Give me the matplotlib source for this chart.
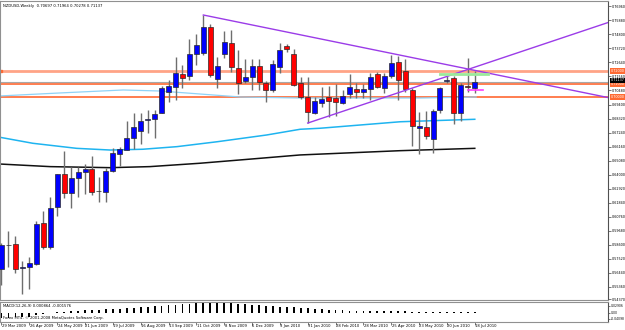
import matplotlib
matplotlib.use("Agg")
import matplotlib.pyplot as plt
import matplotlib.transforms as mtransforms

plt.rcParams['font.family'] = ['DejaVu Sans']

# weekly NZDUSD candles, 29 Mar 2009 .. 18 Jul 2010
opens = [0.5672, 0.5857, 0.5865, 0.5683, 0.5687, 0.5710, 0.6026, 0.5841, 0.6152, 0.6404,
         0.6258, 0.6373, 0.6420, 0.6443, 0.6273, 0.6265, 0.6427, 0.6558, 0.6589, 0.6682,
         0.6736, 0.6824, 0.6828, 0.6874, 0.7036, 0.7075, 0.7175, 0.7160, 0.7329, 0.7337,
         0.7538, 0.7137, 0.7329, 0.7414, 0.7221, 0.7121, 0.7152, 0.7237, 0.7106, 0.7052,
         0.7229, 0.7391, 0.7329, 0.7106, 0.6998, 0.6875, 0.6952, 0.6998, 0.6990, 0.6952,
         0.7021, 0.7060, 0.7036, 0.7060, 0.7175, 0.7067, 0.7160, 0.7268, 0.7198, 0.7052,
         0.6759, 0.6767, 0.6674, 0.6898, 0.7125, 0.7144, 0.6874, 0.7083, 0.70697]
highs = [0.5872, 0.5965, 0.5926, 0.5733, 0.5764, 0.6042, 0.6119, 0.6227, 0.6404, 0.6581,
         0.6458, 0.6458, 0.6481, 0.6543, 0.6381, 0.6450, 0.6605, 0.6612, 0.6813, 0.6874,
         0.6874, 0.6898, 0.6898, 0.7083, 0.7129, 0.7306, 0.7245, 0.7445, 0.7484, 0.7630,
         0.7561, 0.7306, 0.7507, 0.7514, 0.7360, 0.7291, 0.7291, 0.7291, 0.7121, 0.7283,
         0.7414, 0.7407, 0.7368, 0.7152, 0.7152, 0.6998, 0.7075, 0.7083, 0.7098, 0.7052,
         0.7175, 0.7106, 0.7098, 0.7183, 0.7191, 0.7183, 0.7322, 0.7314, 0.7291, 0.7067,
         0.6882, 0.6890, 0.6906, 0.7075, 0.7160, 0.7160, 0.7106, 0.7299, 0.71964]
lows = [0.5548, 0.5687, 0.5641, 0.5479, 0.5517, 0.5703, 0.5826, 0.5826, 0.6080, 0.6219,
        0.6142, 0.6227, 0.6250, 0.6242, 0.6188, 0.6188, 0.6420, 0.6466, 0.6589, 0.6597,
        0.6636, 0.6720, 0.6682, 0.6871, 0.6959, 0.6975, 0.7067, 0.7129, 0.7245, 0.7322,
        0.7152, 0.7067, 0.7299, 0.7191, 0.7021, 0.7106, 0.7052, 0.7052, 0.6959, 0.7036,
        0.7183, 0.7345, 0.7083, 0.6982, 0.6797, 0.6867, 0.6921, 0.6844, 0.6851, 0.6944,
        0.6990, 0.6990, 0.6990, 0.6975, 0.7067, 0.7029, 0.7144, 0.6975, 0.7036, 0.6617,
        0.6558, 0.6674, 0.6566, 0.6874, 0.7106, 0.6790, 0.6813, 0.7036, 0.70278]
closes = [0.5857, 0.5860, 0.5672, 0.5687, 0.5718, 0.6019, 0.5841, 0.6142, 0.6402, 0.6258,
          0.6373, 0.6420, 0.6443, 0.6265, 0.6270, 0.6427, 0.6566, 0.6597, 0.6682, 0.6767,
          0.6813, 0.6828, 0.6863, 0.7067, 0.7083, 0.7183, 0.7144, 0.7329, 0.7399, 0.7538,
          0.7167, 0.7237, 0.7422, 0.7229, 0.7106, 0.7152, 0.7237, 0.7114, 0.7052, 0.7252,
          0.7360, 0.7368, 0.7090, 0.6998, 0.6882, 0.6967, 0.6982, 0.6967, 0.6959, 0.7005,
          0.7075, 0.7036, 0.7056, 0.7152, 0.7075, 0.7160, 0.7260, 0.7129, 0.7060, 0.6774,
          0.6774, 0.6697, 0.6890, 0.7067, 0.7129, 0.6874, 0.7090, 0.7075, 0.71137]

# MACD(12,26,9) histogram
macd = [-0.0135, -0.0135, -0.0122, -0.0122, -0.0108, -0.0054, -0.0027, -0.0014, 0.0014, 0.0027,
        0.0041, 0.0054, 0.0068, 0.0081, 0.0081, 0.0086, 0.0095, 0.0108, 0.0122, 0.0135,
        0.0149, 0.0162, 0.0170, 0.0184, 0.0203, 0.0216, 0.0230, 0.0238, 0.0248, 0.0257,
        0.0265, 0.0259, 0.0251, 0.0248, 0.0238, 0.0221, 0.0205, 0.0194, 0.0184, 0.0167,
        0.0157, 0.0151, 0.0146, 0.0135, 0.0124, 0.0103, 0.0089, 0.0076, 0.0068, 0.0059,
        0.0054, 0.0054, 0.0049, 0.0043, 0.0043, 0.0041, 0.0041, 0.0041, 0.0035, 0.0027,
        0.0014, 0.0008, 0.0005, 0.0008, 0.0011, 0.0011, 0.0008, 0.0008, 0.00086]

# moving averages (bar index, price)
ma_fast_x = [-0.2, 4.5, 10.8, 15.6, 20.3, 25.2, 31, 38.1, 42.9, 45.8, 57.3, 68]
ma_fast_y = [0.6687, 0.6641, 0.6602, 0.6589, 0.6595, 0.6615, 0.6653, 0.6705, 0.6749, 0.6757, 0.6807, 0.6826]
ma_slow_x = [-0.2, 7, 15.6, 21.3, 28.5, 37.1, 42.9, 57.3, 68]
ma_slow_y = [0.6481, 0.6461, 0.6453, 0.6461, 0.6487, 0.6525, 0.6551, 0.6584, 0.6602]
ma_light_x = [-0.2, 8.4, 17.5, 22.8, 28.5, 34.3, 42.9, 60.1, 68.2]
ma_light_y = [0.7006, 0.7029, 0.7052, 0.7044, 0.7021, 0.6998, 0.6990, 0.6990, 0.6998]

# trend lines and levels
upper_x, upper_y = [29, 87.2], [0.7630, 0.6993]
lower_x, lower_y = [44, 87.2], [0.6797, 0.7573]
levels = [0.72, 0.71, 0.70]
level_labels = ["0.72000", "0.71000", "0.70000"]
bid = 0.71137
green_x, green_y = [63.0, 69.9], 0.7175
pink_x, pink_y = [67.0, 69.2], 0.7052

price_ticks = ["0.76960", "0.75880", "0.74800", "0.73720", "0.72640", "0.71560", "0.70480",
               "0.69400", "0.68320", "0.67240", "0.66160", "0.65080", "0.64000", "0.62920",
               "0.61840", "0.60760", "0.59680", "0.58600", "0.57520", "0.56440", "0.55360",
               "0.54370"]
date_labels = ["29 Mar 2009", "26 Apr 2009", "24 May 2009", "21 Jun 2009", "19 Jul 2009",
               "16 Aug 2009", "13 Sep 2009", "11 Oct 2009", "8 Nov 2009", "6 Dec 2009",
               "3 Jan 2010", "31 Jan 2010", "28 Feb 2010", "28 Mar 2010", "25 Apr 2010",
               "23 May 2010", "20 Jun 2010", "18 Jul 2010"]

FS = 2.7
FS_AX = 2.4
XLIM = (-0.2155, 87.14)

fig = plt.figure(figsize=(6.25, 3.3), dpi=100)
ax = fig.add_axes([0, 30 / 330, 608 / 625, 299 / 330])
ax.set_xlim(*XLIM)
ax.set_ylim(0.54327, 0.7738)

# levels under the candles
ax.axhline(levels[0], color="#FFA486", lw=2.0, zorder=1)
ax.axhline(levels[1], color="#FF5A1F", lw=1.1, zorder=1)
ax.axhline(levels[2], color="#FF5A1F", lw=1.1, zorder=1)
ax.axhline(bid, color="#A8A8A8", lw=0.8, zorder=1)
ax.plot([-0.1], [levels[0]], marker="s", ms=2, color="#FF6A33", clip_on=False)

ax.plot(ma_light_x, ma_light_y, color="#8FD3F8", lw=0.9, zorder=1.5)
ax.plot(ma_fast_x, ma_fast_y, color="#1EB4F0", lw=1.1, zorder=1.5)
ax.plot(ma_slow_x, ma_slow_y, color="#111111", lw=1.1, zorder=1.5)

# candles
idx = list(range(len(opens)))
bottoms = [min(o, c) for o, c in zip(opens, closes)]
heights = [max(abs(c - o), 0.00025) for o, c in zip(opens, closes)]
colors = ["#0000FF" if c >= o else "#FF0000" for o, c in zip(opens, closes)]
ax.vlines(idx, lows, highs, color="#6E6E6E", lw=1.0, zorder=3)
ax.bar(idx, heights, bottom=bottoms, width=0.72, color=colors,
       edgecolor="#2A2A2A", linewidth=0.5, zorder=4)

# trend lines and short marks
ax.plot(upper_x, upper_y, color="#9B3CE8", lw=1.0, zorder=5)
ax.plot(lower_x, lower_y, color="#9B3CE8", lw=1.0, zorder=5)
ax.plot(green_x, [green_y, green_y], color="#9BEA9B", lw=2.0, zorder=5)
ax.plot(pink_x, [pink_y, pink_y], color="#FF3CFF", lw=1.2, zorder=5)

# axes look
ax.set_xticks([])
ax.yaxis.tick_right()
ax.set_yticks([float(t) for t in price_ticks])
ax.set_yticklabels(price_ticks, fontsize=FS_AX)
ax.tick_params(axis="y", length=2, width=0.5, pad=1, color="#404040")
for s in ["left", "top", "bottom"]:
    ax.spines[s].set_color("#909090")
    ax.spines[s].set_linewidth(0.8)
ax.spines["right"].set_color("#505050")
ax.spines["right"].set_linewidth(0.8)

# highlighted price labels on the right
blend = mtransforms.blended_transform_factory(ax.transAxes, ax.transData)
for lv, lab in zip(levels, level_labels):
    ax.text(1.004, lv, lab, transform=blend, fontsize=FS_AX, color="white", ha="left",
            va="center", clip_on=False, zorder=6,
            bbox=dict(boxstyle="square,pad=0.25", fc="#FF6A33", ec="none"))
ax.text(1.004, bid + 0.0012, f"{bid:.5f}", transform=blend, fontsize=FS_AX, color="white",
        ha="left", va="center", clip_on=False, zorder=7,
        bbox=dict(boxstyle="square,pad=0.25", fc="black", ec="none"))

fig.text(3 / 625, 1 - 5.5 / 330, "NZDUSD,Weekly  0.70697 0.71964 0.70278 0.71137",
         fontsize=FS, va="center", ha="left")

# MACD window
ax2 = fig.add_axes([0, 8 / 330, 608 / 625, 20 / 330])
ax2.set_xlim(*XLIM)
ax2.set_ylim(-0.02565, 0.02835)
ax2.bar(idx, macd, width=0.26, color="black", zorder=3)
ax2.yaxis.tick_right()
ax2.set_yticks([0.0189, 0.0, -0.0165])
ax2.set_yticklabels(["0.02906", "0.00", "-0.04098"], fontsize=2.2)
ax2.tick_params(axis="y", length=1.5, width=0.5, pad=0.8, color="#404040")
ax2.set_xticks([4 * k for k in range(len(date_labels))])
ax2.set_xticklabels([])
ax2.tick_params(axis="x", length=2, width=0.5, color="#404040")
for s in ["left", "top", "bottom"]:
    ax2.spines[s].set_color("#909090")
    ax2.spines[s].set_linewidth(0.8)
ax2.spines["right"].set_color("#505050")
ax2.spines["right"].set_linewidth(0.8)
ax2.text(0.005, 0.78, "MACD(12,26,9) 0.000864 -0.001576", transform=ax2.transAxes,
         fontsize=FS, va="center", ha="left")
ax2.text(0.005, 0.18, "Forex MT4, \u00a9 2001-2008 MetaQuotes Software Corp.",
         transform=ax2.transAxes, fontsize=FS, va="center", ha="left")

dblend = mtransforms.blended_transform_factory(ax2.transData, ax2.transAxes)
for k, lab in enumerate(date_labels):
    ax2.text(4 * k + 0.05, -0.2, lab, transform=dblend, fontsize=FS, va="center",
             ha="left", clip_on=False)

fig.savefig("out.png", dpi=100)
